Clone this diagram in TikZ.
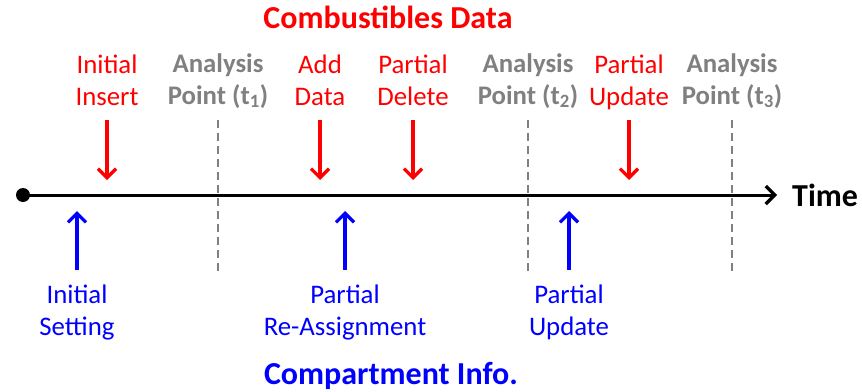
\documentclass[tikz,border=0pt]{standalone}
\usepackage{fontspec}
\setmainfont{Carlito}
\usetikzlibrary{arrows.meta}

\definecolor{evred}{RGB}{255,0,0}
\definecolor{evblue}{RGB}{0,0,255}
\definecolor{ptgray}{RGB}{128,128,128}

\begin{document}
\begin{tikzpicture}[x=1pt,y=-1pt,
  lbl/.style={align=center, anchor=base, inner sep=0pt,
              font=\fontsize{26.8}{32}\selectfont},
  datalbl/.style={lbl, text=evred},
  complbl/.style={lbl, text=evblue},
  ptlbl/.style={lbl, text=ptgray, font=\fontsize{26.8}{32}\selectfont\bfseries},
  title/.style={anchor=base, inner sep=0pt, font=\fontsize{32}{38}\selectfont\bfseries},
  tip/.style={-{Straight Barb[length=9pt,width=18pt,line width=3.2pt]}},
  evarrow/.style={tip, line width=3.2pt},
  ptline/.style={ptgray, line width=2.2pt, dash pattern=on 8pt off 5pt},
]
\useasboundingbox (0,0) rectangle (862,391);

% headings
\node[title, text=evred] (ctitle) at (388,28) {Combustibles Data};
\node[title, text=evblue] (ititle) at (391,384) {Compartment Info.};

% time axis
\node[circle, fill=black, inner sep=0pt, minimum size=14pt] (origin) at (23,195) {};
\coordinate (axisend) at (777,195);
\node[title, anchor=west, inner sep=0pt] (time) at (792,195) {Time};

% analysis points (labels anchored on the baseline of their last line)
\foreach \n/\x/\k in {p1/218/1, p2/528/2, p3/732/3}{
  \node[ptlbl] (\n) at (\x,104) {Analysis\\Point (t\textsubscript{\k})};
  \coordinate (\n top) at (\x,120);
  \coordinate (\n bot) at (\x,272);
  \draw[ptline] (\n top) -- (\n bot);
}

\draw[line width=3pt, tip] (origin.center) -- (axisend);

% combustibles data events
\foreach \n/\x/\t in {d1/107/Initial\\Insert, d2/320/Add\\Data,
                      d3/413/Partial\\Delete, d4/629/Partial\\Update}{
  \node[datalbl] (\n) at (\x,105) {\t};
  \coordinate (\n s) at (\x,120);
  \coordinate (\n e) at (\x,180);
  \draw[evarrow, evred] (\n s) -- (\n e);
}

% compartment info events
\foreach \n/\x/\t in {c1/77/Initial\\Setting, c2/345/Partial\\Re-Assignment,
                      c3/569/Partial\\Update}{
  \node[complbl] (\n) at (\x,335) {\t};
  \coordinate (\n s) at (\x,270);
  \coordinate (\n e) at (\x,211);
  \draw[evarrow, evblue] (\n s) -- (\n e);
}
\end{tikzpicture}
\end{document}
